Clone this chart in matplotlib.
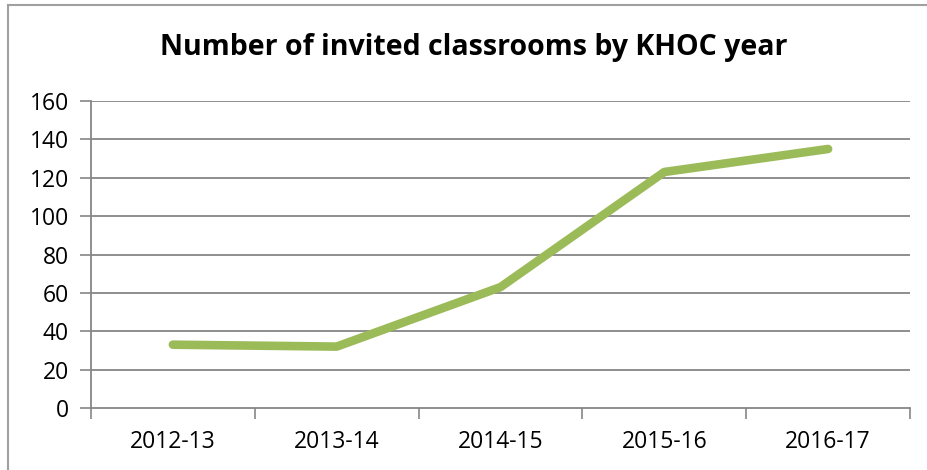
import matplotlib
matplotlib.use("Agg")
import matplotlib.pyplot as plt
from matplotlib.lines import Line2D

categories = ["2012-13", "2013-14", "2014-15", "2015-16", "2016-17"]
values = [33, 32, 63, 123, 135]
yticks = [0, 20, 40, 60, 80, 100, 120, 140, 160]
title = "Number of invited classrooms by KHOC year"

plt.rcParams['font.family'] = ['Open Sans', 'DejaVu Sans']

W, H = 927, 470
fig = plt.figure(figsize=(W/100, H/100), dpi=100)
ax = fig.add_axes([91/W, 1-408/H, (910-91)/W, (408-101)/H])

grid_c = "#868686"
x = list(range(len(categories)))
ax.plot(x, values, color="#9BBB59", lw=6.2, solid_capstyle="round", solid_joinstyle="round", zorder=3)
ax.set_xlim(-0.5, len(categories)-0.5)
ax.set_ylim(0, 160)
ax.set_yticks(yticks)
ax.set_yticklabels([str(v) for v in yticks])
ax.set_xticks(x)
ax.set_xticklabels(categories)
ax.set_xticks([i-0.5 for i in range(len(categories)+1)], minor=True)
ax.tick_params(axis='x', which='major', length=0, pad=16, labelsize=16.5)
ax.tick_params(axis='x', which='minor', length=8, width=1.2, color=grid_c)
ax.tick_params(axis='y', length=8, width=1.2, color=grid_c, pad=8, labelsize=16.5)
for yv in yticks[1:]:
    ax.axhline(yv, color=grid_c, lw=1.3, zorder=1)
for s in ['top', 'right']:
    ax.spines[s].set_visible(False)
for s in ['left', 'bottom']:
    ax.spines[s].set_color(grid_c)
    ax.spines[s].set_linewidth(1.3)

fig.text(474/W, 1-47/H, title, ha='center', va='center', fontsize=20.5, fontweight='bold')

fig.add_artist(Line2D([8/W, 8/W], [0, 1-5/H], transform=fig.transFigure, color="#A0A0A0", lw=1.5))
fig.add_artist(Line2D([8/W, 1], [1-5/H, 1-5/H], transform=fig.transFigure, color="#A0A0A0", lw=1.5))

fig.savefig("out.png", dpi=100)
